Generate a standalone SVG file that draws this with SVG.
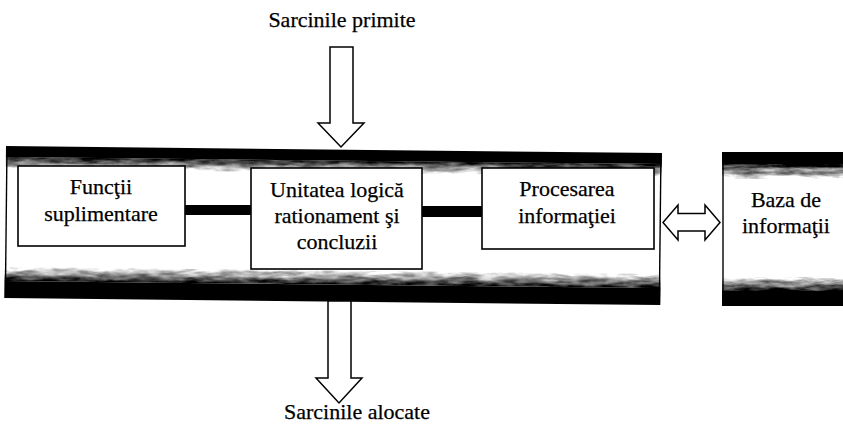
<svg xmlns="http://www.w3.org/2000/svg" width="843" height="425" viewBox="0 0 843 425">
  <style>
    .lbl { font-family: "Liberation Serif", "Times New Roman", "DejaVu Serif", serif; font-size: 22px; fill: #000; stroke: #000; stroke-width: 0.25; text-anchor: middle; }
    .box { fill: #fff; stroke: #000; stroke-width: 1.6; }
    .edge { fill: none; stroke: #000; stroke-width: 1.4; }
    .bigarrow { fill: #fff; stroke: #000; stroke-width: 1.5; stroke-linejoin: miter; }
    .bar { fill: #000; }
    .solid { fill: #000; }
    .fadeDown { fill: url(#fadeDown); }
    .fadeUp { fill: url(#fadeUp); }
  </style>
  <defs>
    <!-- opacity ramps for the soft inner edge of the heavy frame bands -->
    <linearGradient id="fadeDown" x1="0" y1="0" x2="0" y2="1">
      <stop offset="0" stop-color="#000" stop-opacity="0.95"/>
      <stop offset="0.35" stop-color="#000" stop-opacity="0.6"/>
      <stop offset="1" stop-color="#000" stop-opacity="0"/>
    </linearGradient>
    <linearGradient id="fadeUp" x1="0" y1="1" x2="0" y2="0">
      <stop offset="0" stop-color="#000" stop-opacity="0.95"/>
      <stop offset="0.35" stop-color="#000" stop-opacity="0.6"/>
      <stop offset="1" stop-color="#000" stop-opacity="0"/>
    </linearGradient>
    <!-- mottled grey print texture: the ramp's alpha plus a noise field -->
    <filter id="speckle" x="0" y="0" width="1" height="1" color-interpolation-filters="sRGB">
      <feTurbulence type="fractalNoise" baseFrequency="0.05 0.25" numOctaves="4" seed="11" result="noise"/>
      <feColorMatrix in="noise" type="matrix" values="0 0 0 0 0  0 0 0 0 0  0 0 0 0 0  1 0 0 0 0" result="noiseA"/>
      <feComposite in="SourceGraphic" in2="noiseA" operator="arithmetic" k1="0" k2="1" k3="0.9" k4="-0.45"/>
    </filter>
  </defs>

  <rect width="843" height="425" fill="#fff"/>

  <!-- main system frame (slightly skewed like the printed page) -->
  <g id="frame-system" transform="rotate(0.62 6 146)">
    <rect x="6" y="146" width="656" height="152" fill="#fff"/>
    <rect class="solid" x="6" y="146" width="656" height="11"/>
    <rect class="fadeDown" x="6" y="157" width="656" height="12" filter="url(#speckle)"/>
    <rect class="fadeUp" x="6" y="267" width="656" height="14" filter="url(#speckle)"/>
    <rect class="solid" x="6" y="281" width="656" height="17"/>
    <line class="edge" x1="7" y1="146" x2="7" y2="298"/>
    <line class="edge" x1="661" y1="146" x2="661" y2="298"/>
  </g>

  <!-- information base -->
  <g id="node-baza">
    <rect x="722" y="152" width="121" height="154" fill="#fff"/>
    <rect class="solid" x="722" y="152" width="121" height="12"/>
    <rect class="fadeDown" x="722" y="164" width="121" height="15" filter="url(#speckle)"/>
    <rect class="fadeUp" x="722" y="277" width="121" height="14" filter="url(#speckle)"/>
    <rect class="solid" x="722" y="291" width="121" height="15"/>
    <line class="edge" x1="723" y1="152" x2="723" y2="306"/>
    <text class="lbl" x="786" y="207">Baza de</text>
    <text class="lbl" x="786" y="233">informaţii</text>
  </g>

  <!-- connectors -->
  <g id="connectors">
    <rect class="bar" x="185" y="205" width="66" height="10"/>
    <rect class="bar" x="422" y="206" width="60" height="11"/>
    <polygon class="bigarrow" points="663,222.5 678,205 678,213.5 705,213.5 705,205 720,222.5 705,240 705,231 678,231 678,240"/>
    <polygon class="bigarrow" points="330,47 353,47 353,123 364,123 341,147 318,123 330,123"/>
    <polygon class="bigarrow" points="328,301 351,301 351,378 362,378 339,403 316,378 328,378"/>
  </g>

  <g id="node-functii">
    <rect class="box" x="18" y="166" width="167" height="80"/>
    <text class="lbl" x="101" y="194">Funcţii</text>
    <text class="lbl" x="101" y="221">suplimentare</text>
  </g>

  <g id="node-unitate">
    <rect class="box" x="251" y="168" width="171" height="101"/>
    <text class="lbl" x="337" y="197">Unitatea logică</text>
    <text class="lbl" x="337" y="223">rationament şi</text>
    <text class="lbl" x="337" y="249">concluzii</text>
  </g>

  <g id="node-procesare">
    <rect class="box" x="482" y="168" width="172" height="81"/>
    <text class="lbl" x="567" y="196">Procesarea</text>
    <text class="lbl" x="567" y="223">informaţiei</text>
  </g>

  <g id="labels">
    <text class="lbl" x="342" y="27">Sarcinile primite</text>
    <text class="lbl" x="357" y="419">Sarcinile alocate</text>
  </g>
</svg>
